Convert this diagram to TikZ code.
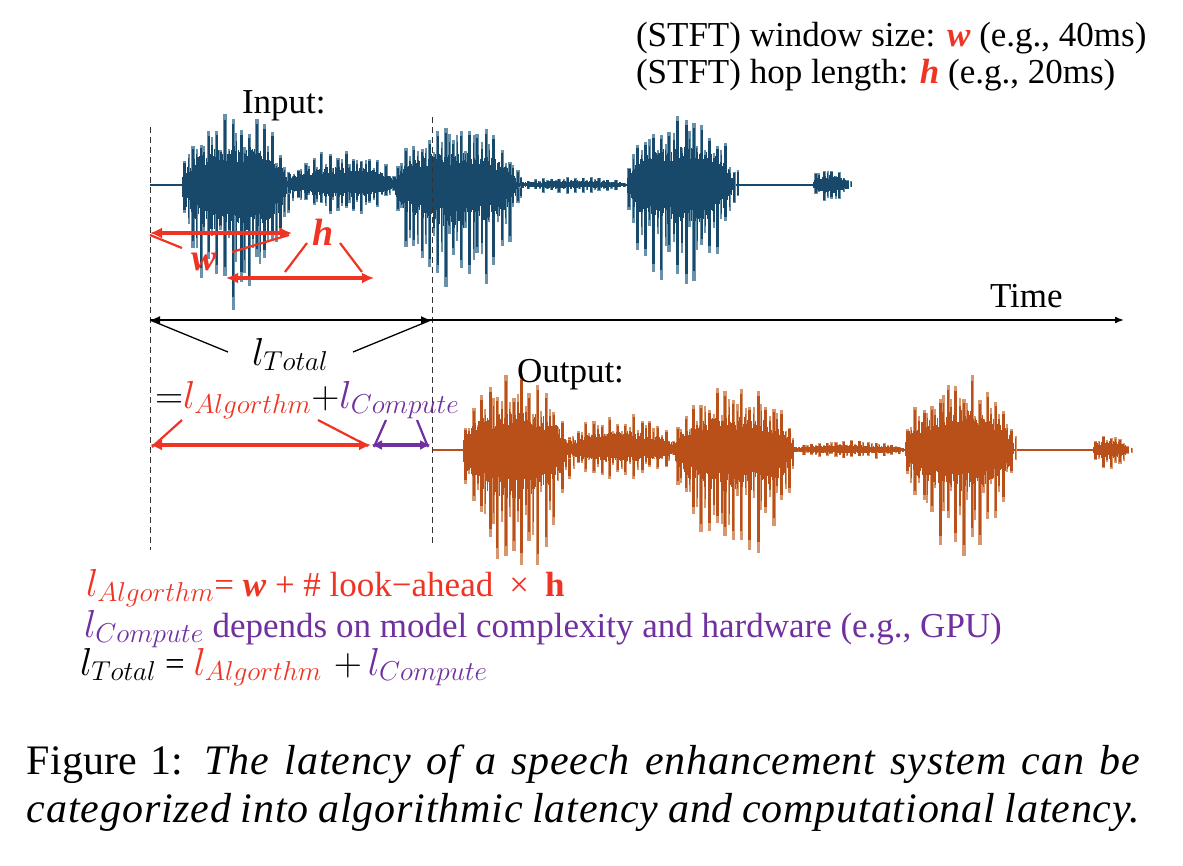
\RequirePackage{fix-cm}
\documentclass[tikz,border=0pt]{standalone}
\usepackage{fontspec}
\setmainfont{Liberation Serif}
\newfontfamily\capfont[LetterSpace=2]{Liberation Serif}
\usetikzlibrary{arrows.meta}
\definecolor{myred}{RGB}{240,52,36}
\definecolor{mypurple}{RGB}{112,48,160}
\definecolor{wblue}{RGB}{24,72,106}
\definecolor{wbluel}{RGB}{105,145,170}
\definecolor{worange}{RGB}{185,80,25}
\definecolor{worangel}{RGB}{216,150,110}
% waveform burst: x0, x1, up, down, base, dark, light
\newcommand\wvburst[7]{%
  \pgfmathtruncatemacro\wvNs{(#2-#1)/8}
  % major spikes
  \foreach \i in {0,...,\wvNs}{%
    \pgfmathsetmacro\wvX{#1+\i*8+2+rnd*1.5}
    \pgfmathsetmacro\wvT{min(max((\wvX-#1)/(#2-#1),0.01),0.99)}
    \pgfmathsetmacro\wvE{pow(sin(180*\wvT),0.4)}
    \pgfmathsetmacro\wvU{\wvE*#3*(0.65+0.35*rnd)}
    \pgfmathsetmacro\wvD{\wvE*#4*(0.6+0.4*rnd)}
    \draw[#7,line width=3.2pt] (\wvX,#5-\wvU) -- (\wvX,#5+\wvD);
    \draw[#6,line width=2.4pt] (\wvX,#5-0.92*\wvU) -- (\wvX,#5+0.9*\wvD);
  }
  % minor spikes
  \foreach \i in {0,...,\wvNs}{%
    \pgfmathsetmacro\wvX{#1+\i*8+6+rnd*1.0}
    \pgfmathsetmacro\wvT{min(max((\wvX-#1)/(#2-#1),0.01),0.99)}
    \pgfmathsetmacro\wvE{pow(sin(180*\wvT),0.4)}
    \pgfmathsetmacro\wvU{\wvE*#3*(0.45+0.35*rnd)}
    \pgfmathsetmacro\wvD{\wvE*#4*(0.35+0.35*rnd)}
    \draw[#7,line width=2.2pt] (\wvX,#5-\wvU) -- (\wvX,#5+\wvD);
    \draw[#6,line width=1.4pt] (\wvX,#5-0.85*\wvU) -- (\wvX,#5+0.85*\wvD);
  }
  % dense body
  \pgfmathtruncatemacro\wvNb{(#2-#1)/0.8}
  \foreach \i in {0,...,\wvNb}{%
    \pgfmathsetmacro\wvX{#1+\i*0.8}
    \pgfmathsetmacro\wvT{(\i+0.5)/(\wvNb+1)}
    \pgfmathsetmacro\wvE{pow(sin(180*\wvT),0.4)}
    \pgfmathsetmacro\wvU{\wvE*#3*(0.3+0.22*rnd)}
    \pgfmathsetmacro\wvD{\wvE*#4*(0.2+0.18*rnd)}
    \draw[#6,line width=1pt] (\wvX,#5-\wvU) -- (\wvX,#5+\wvD);
  }
}
\newcommand\Lm[1]{{\fontsize{39}{46}\selectfont$#1$}}
\tikzset{
  txt/.style={anchor=base west,inner sep=0pt,outer sep=0pt},
  blkarrow/.style={line width=1.8pt,{Latex[length=10pt,width=8pt]}-{Latex[length=10pt,width=8pt]}},
  redarrow/.style={myred,line width=3.2pt,{Latex[length=12pt,width=11pt]}-{Latex[length=12pt,width=11pt]}},
  purarrow/.style={mypurple,line width=3.2pt,{Latex[length=11pt,width=10pt]}-{Latex[length=11pt,width=10pt]}},
  redcall/.style={myred,line width=2.2pt},
  purcall/.style={mypurple,line width=2.2pt},
  blkcall/.style={black,line width=1.3pt},
  guide/.style={black!80,line width=1pt,dash pattern=on 6pt off 4pt}
}
\begin{document}
\begin{tikzpicture}[x=1pt,y=-1pt]
\fill[white] (0,0) rectangle (1183,865);
\useasboundingbox (0,0) rectangle (1183,865);
\pgfmathsetseed{4321}
\fontsize{35}{42}\selectfont
% ---------- input waveform ----------
\draw[wblue,line width=1.6pt] (150,185) -- (848,185);
\wvburst{182}{287}{77}{130}{185}{wblue}{wbluel}
\wvburst{287}{395}{36}{32}{185}{wblue}{wbluel}
\wvburst{395}{517}{65}{115}{185}{wblue}{wbluel}
\wvburst{517}{627}{9}{9}{185}{wblue}{wbluel}
\wvburst{627}{733}{77}{107}{185}{wblue}{wbluel}
\wvburst{813}{848}{20}{22}{185}{wblue}{wbluel}
% ---------- output waveform ----------
\draw[worange,line width=1.6pt] (432,450) -- (1128,450);
\wvburst{463}{567}{77}{130}{450}{worange}{worangel}
\wvburst{567}{675}{37}{32}{450}{worange}{worangel}
\wvburst{675}{793}{67}{113}{450}{worange}{worangel}
\wvburst{793}{905}{10}{10}{450}{worange}{worangel}
\wvburst{905}{1013}{77}{107}{450}{worange}{worangel}
\wvburst{1093}{1128}{18}{23}{450}{worange}{worangel}
% ---------- guide lines ----------
\coordinate (gA1) at (150,127); \coordinate (gA2) at (150,550);
\coordinate (gB1) at (432,117); \coordinate (gB2) at (432,546);
\draw[guide] (gA1) -- (gA2);
\draw[guide] (gB1) -- (gB2);
% ---------- texts ----------
\node[txt] (stft1) at (636,46) {(STFT) window size: \textcolor{myred}{\textbf{\textit{w}}} (e.g., 40ms)};
\node[txt] (stft2) at (636,83) {(STFT) hop length: \textcolor{myred}{\textbf{\textit{h}}} (e.g., 20ms)};
\node[txt] (inlbl) at (242,113) {Input:};
\node[txt] (outlbl) at (517,382) {Output:};
\node[txt] (timelbl) at (990,307) {Time};
\node[txt,text=myred] (wlbl) at (191,270) {\fontsize{38}{44}\selectfont\textbf{\textit{w}}};
\node[txt,text=myred] (hlbl) at (312,245) {\fontsize{38}{44}\selectfont\textbf{\textit{h}}};
\node[txt] (ltot) at (252,365) {\Lm{l_{Total}}};
\node[txt] (eqsum) at (155,408) {\Lm{=}\textcolor{myred}{\Lm{l_{Algorthm}}}\Lm{+}\textcolor{mypurple}{\Lm{l_{Compute}}}};
% ---------- time axis and total latency ----------
\coordinate (L0) at (150,320); \coordinate (L1) at (431,320); \coordinate (TE) at (1124,320);
\draw[line width=1.6pt,-{Latex[length=9pt,width=7pt]}] (L0) -- (TE);
\draw[blkarrow] (L0) -- (L1);
\coordinate (cT1) at (228,352); \coordinate (cT2) at (353,352);
\draw[blkcall] (L0) -- (cT1);
\draw[blkcall] (cT2) -- (L1);
% ---------- window / hop arrows ----------
\coordinate (W0) at (150,233); \coordinate (W1) at (292,233);
\draw[redarrow] (W0) -- (W1);
\coordinate (cw1) at (182,248); \coordinate (cw2) at (232,252);
\draw[redcall] ([yshift=-2pt]W0) -- (cw1);
\draw[redcall] (cw2) -- ([xshift=-3pt,yshift=-2pt]W1);
\coordinate (H0) at (226,278); \coordinate (H1) at (374,278);
\draw[redarrow] (H0) -- (H1);
\coordinate (ch1) at (307,243); \coordinate (ch2) at (285,272);
\coordinate (ch3) at (340,243); \coordinate (ch4) at (362,272);
\draw[redcall] (ch1) -- (ch2);
\draw[redcall] (ch3) -- (ch4);
% ---------- algorithmic / compute arrows ----------
\coordinate (A0) at (150,445); \coordinate (A1) at (371,445); \coordinate (C1) at (431,445);
\draw[redarrow] (A0) -- (A1);
\draw[purarrow] (A1) -- (C1);
\coordinate (ca1) at (182,420); \coordinate (ca2) at (318,420);
\draw[redcall] (ca1) -- ([xshift=2pt,yshift=-2pt]A0);
\draw[redcall] (ca2) -- ([xshift=-3pt,yshift=-1pt]A1);
\coordinate (cc1) at (386,420); \coordinate (cc2) at (417,420);
\draw[purcall] (cc1) -- ([xshift=3pt,yshift=-2pt]A1);
\draw[purcall] (cc2) -- ([xshift=-3pt,yshift=-2pt]C1);
% ---------- bottom formulas ----------
\node[txt,text=myred] (f1) at (86,596) {\Lm{l_{Algorthm}}= \textbf{\textit{w}} + \# look−ahead\hspace{16pt}×\hspace{16pt}\textbf{h}};
\node[txt,text=mypurple] (f2) at (84,637) {\Lm{l_{Compute}}\ depends on model complexity and hardware (e.g., GPU)};
\node[txt] (f3) at (80,675) {\Lm{l_{Total}} = \textcolor{myred}{\Lm{l_{Algorthm}}}\hspace{12pt}\Lm{+}\,\textcolor{mypurple}{\Lm{l_{Compute}}}};
% ---------- caption ----------
\node[txt] (cap1) at (27,774) {\fontsize{42}{50}\selectfont\makebox[1113pt][s]{Figure 1: {\capfont\itshape The latency of a speech enhancement system can be}}};
\node[txt] (cap2) at (27,822) {\fontsize{42}{50}\selectfont\makebox[1113pt][s]{\capfont\itshape categorized into algorithmic latency and computational latency.}};
\end{tikzpicture}
\end{document}
